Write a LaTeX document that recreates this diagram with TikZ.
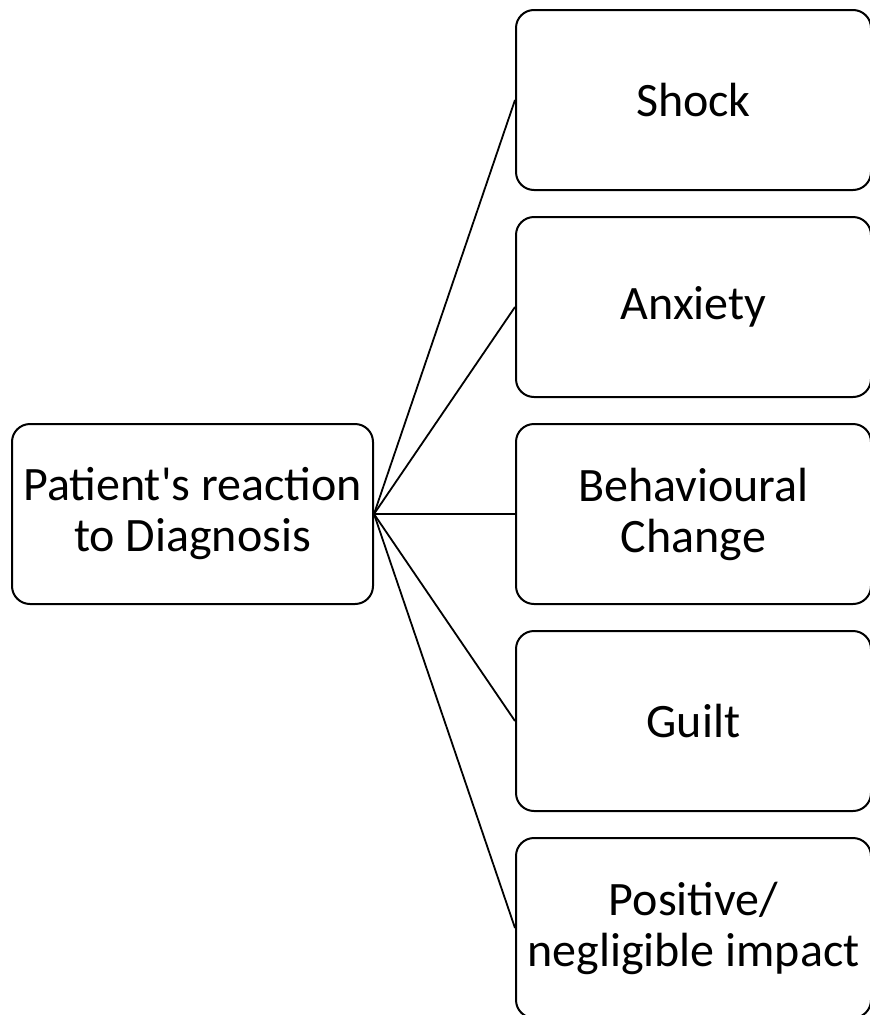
\documentclass[tikz,border=0pt]{standalone}
\usepackage{fontspec}
\setmainfont{Carlito}[Ligatures=TeXOff]
\begin{document}
\begin{tikzpicture}[x=1pt,y=-1pt,
  box/.style={draw=black, line width=2pt, rounded corners=18pt, minimum width=355pt, minimum height=180pt, align=center, inner sep=0pt, font=\fontsize{48}{51}\selectfont},
  link/.style={draw=black, line width=1.8pt}]
\useasboundingbox (0,0) rectangle (870,1015);
\node[box, minimum width=361pt] (root) at (192.5,514) {Patient's reaction\\to Diagnosis};
\node[box] (a) at (693.5,100) {Shock};
\node[box] (b) at (693.5,307) {Anxiety};
\node[box] (c) at (693.5,514) {Behavioural\\Change};
\node[box] (d) at (693.5,721) {Guilt};
\node[box] (e) at (693.5,928) {Positive/\\negligible impact};
\foreach \n in {a,b,c,d,e} \draw[link] (root.east) -- (\n.west);
\end{tikzpicture}
\end{document}
